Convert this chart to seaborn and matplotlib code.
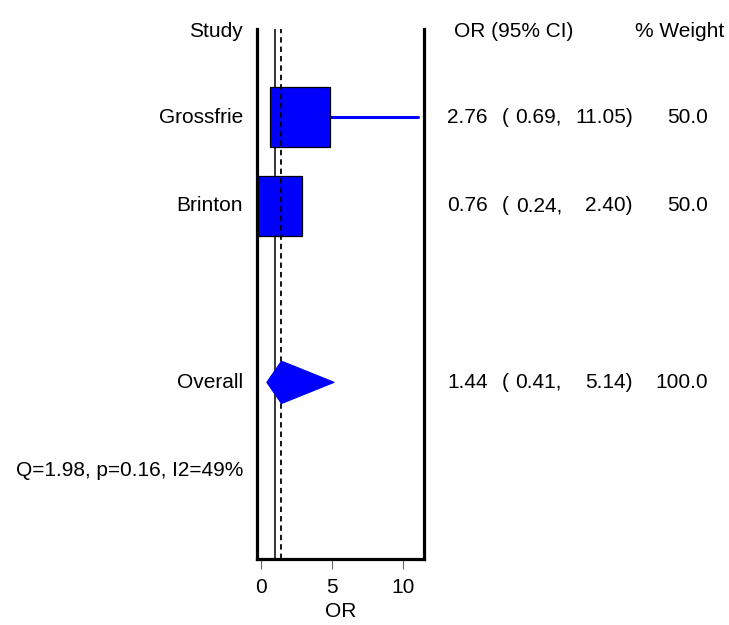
import matplotlib
matplotlib.use("Agg")
import matplotlib.pyplot as plt
import matplotlib.transforms as mtransforms
from matplotlib.patches import Rectangle, Polygon
import seaborn as sns
import pandas as pd

# ---- data ----
studies = ["Grossfrie", "Brinton"]
odds_ratios = [2.76, 0.76]
ci_lower = [0.69, 0.24]
ci_upper = [11.05, 2.40]
weights = [50.0, 50.0]
overall_label = "Overall"
overall_or = 1.44
overall_lower = 0.41
overall_upper = 5.14
overall_weight = 100.0
heterogeneity = "Q=1.98, p=0.16, I2=49%"
null_value = 1.0
x_ticks = [0, 5, 10]
x_label = "OR"
headers = ["Study", "OR (95% CI)", "% Weight"]

sns.set_theme(style="white")
plt.rcParams['font.family'] = ['Liberation Sans', 'DejaVu Sans']
FS = 15

W, H = 729, 625
fig = plt.figure(figsize=(W / 100, H / 100), dpi=100)
ax = fig.add_axes([256.7 / W, 1 - 559 / H, (424 - 256.7) / W, (559 - 29) / H])
ax.set_xlim(-0.30, 11.45)
ax.set_ylim(6, 0)

rows = list(range(1, len(studies) + 1))
overall_row = len(studies) + 2
het_row = overall_row + 1

# reference lines
ax.axvline(null_value, color="black", lw=1.1, zorder=1)
ax.axvline(overall_or, color="black", lw=1.3, ls=(0, (3, 2.2)), zorder=3)

# confidence interval lines via seaborn
ci_df = pd.DataFrame({
    "study": [s for s in studies for _ in range(2)],
    "OR": [v for lo, hi in zip(ci_lower, ci_upper) for v in (lo, hi)],
    "row": [r for r in rows for _ in range(2)],
})
sns.lineplot(data=ci_df, x="OR", y="row", units="study", estimator=None,
             sort=False, color="#0000FF", lw=2.2, ax=ax, zorder=2, legend=False)

# boxes sized by weight
px_per_row = (559 - 29) / 6
px_per_x = (424 - 256.7) / (11.45 + 0.30)
for r, est, w in zip(rows, odds_ratios, weights):
    hh = 0.34 * (w / 50.0) ** 0.5
    hw = hh * px_per_row / px_per_x
    ax.add_patch(Rectangle((est - hw, r - hh), 2 * hw, 2 * hh,
                           facecolor="#0000FF", edgecolor="black", lw=0.9, zorder=2.5))

# overall diamond
dh = 0.24
ax.add_patch(Polygon([(overall_lower, overall_row), (overall_or, overall_row - dh),
                      (overall_upper, overall_row), (overall_or, overall_row + dh)],
                     closed=True, facecolor="#0000FF", edgecolor="#0000FF", lw=0.8, zorder=4))

# axes styling
for s in ["left", "right", "bottom"]:
    ax.spines[s].set_visible(True)
    ax.spines[s].set_linewidth(2.3)
    ax.spines[s].set_color("black")
ax.spines["top"].set_visible(False)
ax.set_yticks([])
ax.set_xticks(x_ticks)
ax.set_xticklabels([str(t) for t in x_ticks], fontsize=FS, color="black")
ax.tick_params(axis="x", direction="out", length=7, width=0.8, color="#666666",
               pad=7, bottom=True, labelcolor="black")
ax.set_xlabel(x_label, fontsize=FS, labelpad=3, color="black")
ax.set_ylabel("")
ax.grid(False)

# text columns
tr = mtransforms.blended_transform_factory(fig.transFigure, ax.transData)
def fx(px):
    return px / W

txt = dict(transform=tr, fontsize=FS, va="center", clip_on=False, color="black")
ax.text(fx(243), 0.03, headers[0], ha="right", **txt)
ax.text(fx(454), 0.03, headers[1], ha="left", **txt)
ax.text(fx(635), 0.03, headers[2], ha="left", **txt)

def row_text(r, name, est, lo, hi, w):
    ax.text(fx(243), r, name, ha="right", **txt)
    ax.text(fx(447), r, f"{est:.2f}", ha="left", **txt)
    ax.text(fx(502), r, "(", ha="left", **txt)
    ax.text(fx(562), r, f"{lo:.2f},", ha="right", **txt)
    ax.text(fx(633), r, f"{hi:.2f})", ha="right", **txt)
    ax.text(fx(708), r, f"{w:.1f}", ha="right", **txt)

for r, n, e, lo, hi, w in zip(rows, studies, odds_ratios, ci_lower, ci_upper, weights):
    row_text(r, n, e, lo, hi, w)
row_text(overall_row, overall_label, overall_or, overall_lower, overall_upper, overall_weight)

ax.text(fx(16), het_row, heterogeneity, ha="left", **txt)

fig.savefig("out.png", dpi=100, facecolor="white")
